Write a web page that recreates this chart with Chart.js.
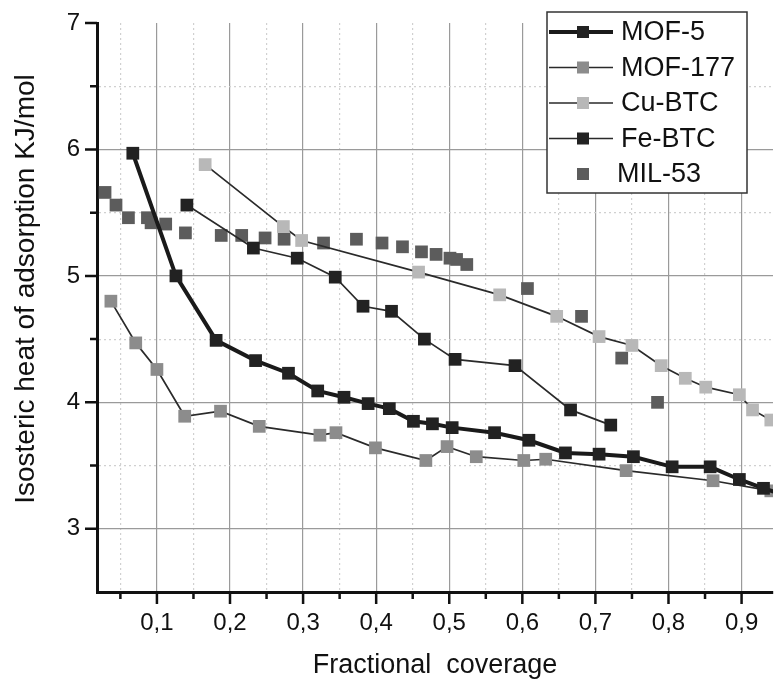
<!DOCTYPE html>
<html>
<head>
<meta charset="utf-8">
<script src="https://cdn.jsdelivr.net/npm/chart.js@4.4.0/dist/chart.umd.min.js"></script>
<style>
  html, body { margin: 0; padding: 0; background: #fff; }
  #c { display: block; }
</style>
</head>
<body>
<canvas id="c" width="782" height="679"></canvas>
<script>
// values (fractional coverage / isosteric heat, kJ/mol)
const seriesNames = ['MOF-5', 'MOF-177', 'Cu-BTC', 'Fe-BTC', 'MIL-53'];

const mof5X = [0.067, 0.126, 0.181, 0.235, 0.280, 0.320, 0.356, 0.389, 0.418, 0.451, 0.477, 0.504, 0.562, 0.609, 0.659, 0.705, 0.752, 0.805, 0.857, 0.897, 0.930, 0.952];
const mof5Y = [5.97, 5.00, 4.49, 4.33, 4.23, 4.09, 4.04, 3.99, 3.95, 3.85, 3.83, 3.80, 3.76, 3.70, 3.60, 3.59, 3.57, 3.49, 3.49, 3.39, 3.32, 3.28];

const mof177X = [0.037, 0.071, 0.100, 0.138, 0.187, 0.240, 0.323, 0.345, 0.399, 0.468, 0.497, 0.537, 0.602, 0.632, 0.742, 0.861, 0.940];
const mof177Y = [4.80, 4.47, 4.26, 3.89, 3.93, 3.81, 3.74, 3.76, 3.64, 3.54, 3.65, 3.57, 3.54, 3.55, 3.46, 3.38, 3.30];

const cuBtcX = [0.166, 0.273, 0.298, 0.458, 0.569, 0.647, 0.705, 0.750, 0.790, 0.823, 0.851, 0.897, 0.915, 0.940];
const cuBtcY = [5.88, 5.39, 5.28, 5.03, 4.85, 4.68, 4.52, 4.45, 4.29, 4.19, 4.12, 4.06, 3.94, 3.86];

const feBtcX = [0.141, 0.232, 0.292, 0.344, 0.382, 0.421, 0.466, 0.508, 0.590, 0.666, 0.721];
const feBtcY = [5.56, 5.22, 5.14, 4.99, 4.76, 4.72, 4.50, 4.34, 4.29, 3.94, 3.82];

const mil53X = [0.029, 0.044, 0.061, 0.087, 0.092, 0.112, 0.139, 0.188, 0.216, 0.248, 0.274, 0.328, 0.373, 0.408, 0.436, 0.462, 0.482, 0.501, 0.510, 0.524, 0.607, 0.681, 0.736, 0.785];
const mil53Y = [5.66, 5.56, 5.46, 5.46, 5.42, 5.41, 5.34, 5.32, 5.32, 5.30, 5.29, 5.26, 5.29, 5.26, 5.23, 5.19, 5.17, 5.14, 5.13, 5.09, 4.90, 4.68, 4.35, 4.00];

// axis ranges / tick labels / titles
const xRange = [0.018, 0.943];
const yRange = [2.5, 7];
const xTickLabels = ['0,1', '0,2', '0,3', '0,4', '0,5', '0,6', '0,7', '0,8', '0,9'];
const yTickLabels = ['3', '4', '5', '6', '7'];
const xTitle = 'Fractional  coverage';
const yTitle = 'Isosteric heat of adsorption KJ/mol';

const FONT = "'Liberation Sans', Arial, Helvetica, sans-serif";
const INK = '#111';

function pts(xs, ys) {
  return xs.map(function(x, i) { return {x: x, y: ys[i]}; });
}

function xMajor(v) { return Math.abs(v * 10 - Math.round(v * 10)) < 1e-6; }
function yMajor(v) { return Math.abs(v - Math.round(v)) < 1e-6; }

//tick marks on the outside of both axes
const axisTicks = {
  id: 'axisTicks',
  afterDraw(chart) {
    const {ctx, chartArea} = chart;
    const x = chart.scales.x, y = chart.scales.y;
    ctx.save();
    ctx.strokeStyle = INK;
    ctx.lineWidth = 2.5;
    ctx.beginPath();
    x.ticks.forEach(function(t) {
      const px = x.getPixelForValue(t.value);
      const len = xMajor(t.value) ? 12 : 7;
      ctx.moveTo(px, chartArea.bottom);
      ctx.lineTo(px, chartArea.bottom + len);
    });
    y.ticks.forEach(function(t) {
      if (t.value <= y.min + 1e-6) return;
      const py = y.getPixelForValue(t.value);
      const len = yMajor(t.value) ? 12 : 7;
      ctx.moveTo(chartArea.left, py);
      ctx.lineTo(chartArea.left - len, py);
    });
    ctx.stroke();
    ctx.restore();
  }
};

//rotated y title, sits a bit above the middle of the axis
const yTitleText = {
  id: 'yTitleText',
  afterDraw(chart) {
    const ctx = chart.ctx;
    ctx.save();
    ctx.translate(26, 289);
    ctx.rotate(-Math.PI / 2);
    ctx.font = '28px ' + FONT;
    ctx.fillStyle = INK;
    ctx.textAlign = 'center';
    ctx.textBaseline = 'middle';
    ctx.fillText(yTitle, 0, 0);
    ctx.restore();
  }
};

//boxed legend inside the plot, top right
const boxLegend = {
  id: 'boxLegend',
  afterDraw(chart) {
    const ctx = chart.ctx;
    const bx = 547, by = 12, bw = 200, bh = 181;
    ctx.save();
    ctx.fillStyle = '#fff';
    ctx.fillRect(bx, by, bw, bh);
    ctx.strokeStyle = '#333';
    ctx.lineWidth = 1.5;
    ctx.strokeRect(bx, by, bw, bh);
    chart.data.datasets.forEach(function(ds, i) {
      const cy = 32 + i * 35.5;
      if (ds.showLine !== false) {
        ctx.strokeStyle = ds.borderColor;
        ctx.lineWidth = ds.borderWidth;
        ctx.beginPath();
        ctx.moveTo(549, cy);
        ctx.lineTo(613, cy);
        ctx.stroke();
      }
      ctx.fillStyle = ds.pointBackgroundColor;
      ctx.fillRect(577, cy - 6, 12, 12);
      ctx.fillStyle = INK;
      ctx.font = '27px ' + FONT;
      ctx.textBaseline = 'middle';
      ctx.fillText(ds.label, ds.showLine === false ? 617 : 621, cy + 1);
    });
    ctx.restore();
  }
};

function series(name, xs, ys, fill, line, width, showLine) {
  return {
    label: name,
    data: pts(xs, ys),
    showLine: showLine,
    borderColor: line,
    borderWidth: width,
    pointStyle: 'rect',
    pointRadius: 9,
    pointHoverRadius: 9,
    pointBackgroundColor: fill,
    pointBorderColor: fill,
    pointBorderWidth: 0
  };
}

new Chart(document.getElementById('c'), {
  type: 'scatter',
  data: {
    datasets: [
      series(seriesNames[0], mof5X, mof5Y, '#222', '#1a1a1a', 4, true),
      series(seriesNames[1], mof177X, mof177Y, '#8c8c8c', '#2a2a2a', 1.7, true),
      series(seriesNames[2], cuBtcX, cuBtcY, '#b8b8b8', '#2a2a2a', 1.7, true),
      series(seriesNames[3], feBtcX, feBtcY, '#222', '#2a2a2a', 1.7, true),
      series(seriesNames[4], mil53X, mil53Y, '#5c5c5c', '#5c5c5c', 0, false)
    ]
  },
  options: {
    responsive: false,
    animation: false,
    events: [],
    layout: { padding: { top: 23, left: 0, right: 0, bottom: 0 } },
    plugins: { legend: { display: false }, tooltip: { enabled: false } },
    scales: {
      x: {
        type: 'linear',
        min: xRange[0],
        max: xRange[1],
        afterFit: function(s) { s.height = 87; s.paddingLeft = 0; s.paddingRight = 0; },
        ticks: {
          stepSize: 0.05,
          includeBounds: false,
          autoSkip: false,
          maxRotation: 0,
          padding: 17,
          color: INK,
          font: { family: FONT, size: 24 },
          callback: function(v) {
            if (!xMajor(v)) return '';
            return xTickLabels[Math.round(v * 10) - 1] || '';
          }
        },
        grid: {
          drawTicks: false,
          color: function(c) { return c.tick && xMajor(c.tick.value) ? '#9a9a9a' : '#d0d0d0'; },
          lineWidth: 1.2
        },
        border: {
          display: true, color: INK, width: 3,
          dash: function(c) { return c.tick && !xMajor(c.tick.value) ? [2, 3] : []; }
        },
        title: {
          display: true, text: xTitle, color: INK,
          font: { family: FONT, size: 27 }, padding: { top: 0, bottom: -3 }
        }
      },
      y: {
        type: 'linear',
        min: yRange[0],
        max: yRange[1],
        afterFit: function(s) { s.width = 97; s.paddingTop = 0; s.paddingBottom = 0; },
        ticks: {
          stepSize: 0.5,
          padding: 17,
          color: INK,
          font: { family: FONT, size: 24 },
          callback: function(v) {
            if (!yMajor(v)) return '';
            return yTickLabels[Math.round(v) - 3] || '';
          }
        },
        grid: {
          drawTicks: false,
          color: function(c) {
            if (!c.tick) return '#9a9a9a';
            const v = c.tick.value;
            if (v <= yRange[0] + 1e-6 || v >= yRange[1] - 1e-6) return 'rgba(0,0,0,0)';
            return yMajor(v) ? '#9a9a9a' : '#d0d0d0';
          },
          lineWidth: 1.2
        },
        border: {
          display: true, color: INK, width: 3,
          dash: function(c) { return c.tick && !yMajor(c.tick.value) ? [2, 3] : []; }
        },
        title: { display: false }
      }
    }
  },
  plugins: [axisTicks, yTitleText, boxLegend]
});
</script>
</body>
</html>
